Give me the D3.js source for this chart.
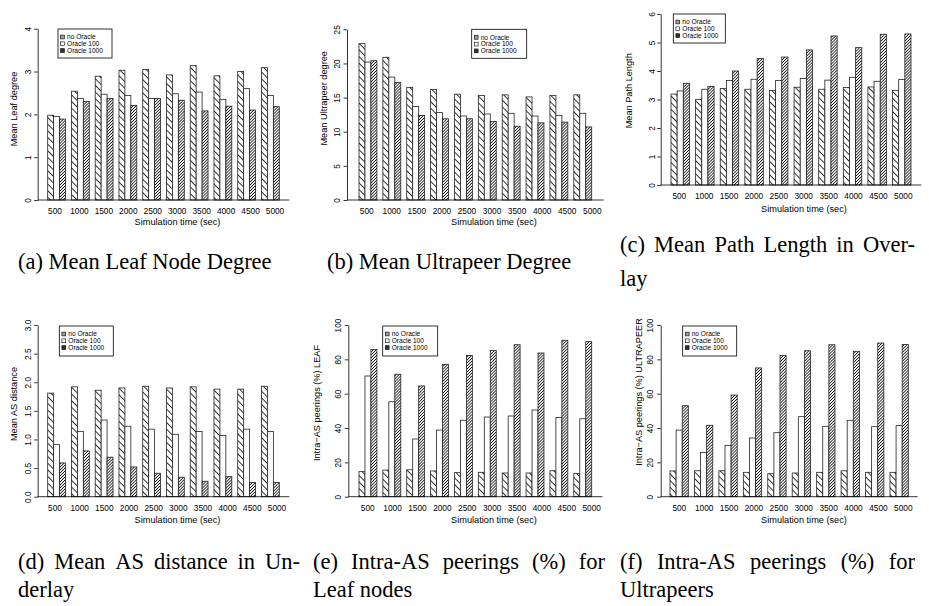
<!DOCTYPE html>
<html lang="en">
<head>
    <meta charset="UTF-8">
    <title>Oracle simulation results</title>
    <script src="https://d3js.org/d3.v7.min.js"></script>
    <style>
        body { margin: 0; background: #fff; }
        svg { display: block; }
        .tick text, .lbl { font-family: "Liberation Sans", Arial, sans-serif; fill: #000; }
        .cap { font-family: "Liberation Serif", "Times New Roman", serif; fill: #000; }
    </style>
</head>
<body>
    <div id="chart"></div>
    <script>

// --- data ---
const timeLabels = ["500", "1000", "1500", "2000", "2500", "3000", "3500", "4000", "4500", "5000"];
const seriesNames = ["no Oracle", "Oracle 100", "Oracle 1000"];

const leafNoOracle   = [1.98, 2.54, 2.89, 3.03, 3.05, 2.92, 3.14, 2.90, 3.00, 3.09];
const leafOracle100  = [1.95, 2.37, 2.47, 2.44, 2.37, 2.48, 2.52, 2.35, 2.60, 2.44];
const leafOracle1000 = [1.89, 2.30, 2.37, 2.21, 2.37, 2.33, 2.08, 2.19, 2.10, 2.18];

const upNoOracle   = [22.9, 20.9, 16.5, 16.2, 15.5, 15.3, 15.4, 15.1, 15.3, 15.4];
const upOracle100  = [20.2, 18.0, 13.7, 12.8, 12.3, 12.6, 12.7, 12.3, 12.4, 12.7];
const upOracle1000 = [20.4, 17.2, 12.4, 11.9, 11.9, 11.5, 10.8, 11.3, 11.4, 10.7];

const pathNoOracle   = [3.19, 3.00, 3.39, 3.36, 3.32, 3.43, 3.36, 3.42, 3.44, 3.32];
const pathOracle100  = [3.30, 3.36, 3.67, 3.71, 3.67, 3.74, 3.68, 3.78, 3.64, 3.70];
const pathOracle1000 = [3.57, 3.46, 4.00, 4.44, 4.49, 4.74, 5.23, 4.82, 5.29, 5.30];

const asNoOracle   = [1.81, 1.92, 1.86, 1.90, 1.93, 1.90, 1.92, 1.88, 1.88, 1.93];
const asOracle100  = [0.91, 1.14, 1.34, 1.23, 1.18, 1.09, 1.14, 1.07, 1.18, 1.14];
const asOracle1000 = [0.59, 0.80, 0.69, 0.52, 0.41, 0.34, 0.27, 0.35, 0.25, 0.25];

const leafIntraNoOracle   = [14.6, 15.5, 15.7, 15.0, 14.0, 14.2, 13.8, 13.8, 15.1, 13.6];
const leafIntraOracle100  = [70.3, 55.3, 33.6, 38.8, 44.5, 46.4, 47.0, 50.5, 46.2, 45.4];
const leafIntraOracle1000 = [85.8, 71.3, 64.5, 77.1, 82.3, 85.2, 88.5, 83.7, 91.1, 90.3];

const upIntraNoOracle   = [15.0, 15.1, 15.1, 14.2, 13.4, 13.8, 14.2, 15.1, 14.2, 14.2];
const upIntraOracle100  = [38.8, 25.8, 29.9, 34.2, 37.3, 46.6, 41.0, 44.5, 40.8, 41.4];
const upIntraOracle1000 = [53.0, 41.6, 59.2, 75.0, 82.3, 85.0, 88.5, 84.7, 89.5, 88.7];

const leafTicks = [0, 1, 2, 3, 4];
const upTicks = [0, 5, 10, 15, 20, 25];
const pathTicks = [0, 1, 2, 3, 4, 5, 6];
const asTicks = [0, 0.5, 1, 1.5, 2, 2.5, 3];
const pctTicks = [0, 20, 40, 60, 80, 100];

// --- panels: data + where each one sits on the page ---
const panels = [
    { series: [leafNoOracle, leafOracle100, leafOracle1000], ticks: leafTicks, fmt: d3.format("d"),
      yTitle: "Mean Leaf degree", caption: ["(a) Mean Leaf Node Degree"], capX: 18, capY: [269],
      axisX: 37.7, yBase: 200, yTop: 28.7, barL: 47.7, barR: 279.3, labL: 55, labR: 275, labY: 210.7,
      titleX: 177.5, titleY: 221.7, yLabX: 28.3, yTitleX: 13.3, yTitleY: 109, legend: [58, 29, 54, 29] },
    { series: [upNoOracle, upOracle100, upOracle1000], ticks: upTicks, fmt: d3.format("d"),
      yTitle: "Mean Ultrapeer degree", caption: ["(b) Mean Ultrapeer Degree"], capX: 327, capY: [269],
      axisX: 347, yBase: 200, yTop: 29.3, barL: 359, barR: 591.7, labL: 366.7, labR: 592.3, labY: 210.7,
      titleX: 494, titleY: 221.7, yLabX: 337.3, yTitleX: 323.3, yTitleY: 98.3, legend: [471.7, 29.3, 55, 29] },
    { series: [pathNoOracle, pathOracle100, pathOracle1000], ticks: pathTicks, fmt: d3.format("d"),
      yTitle: "Mean Path Length", caption: ["(c) Mean Path Length in Over-", "lay"], capX: 620, capY: [252, 286], justify: 295,
      axisX: 660.7, yBase: 185, yTop: 14, barL: 671, barR: 911, labL: 679.3, labR: 903.3, labY: 196,
      titleX: 804, titleY: 208.3, yLabX: 651.7, yTitleX: 628.3, yTitleY: 90.8, legend: [673.3, 14, 52, 29] },
    { series: [asNoOracle, asOracle100, asOracle1000], ticks: asTicks, fmt: d3.format(".1f"),
      yTitle: "Mean AS distance", caption: ["(d) Mean AS distance in Un-", "derlay"], capX: 18, capY: [569, 597], justify: 282,
      axisX: 37.7, yBase: 496.7, yTop: 325, barL: 47.7, barR: 279.3, labL: 55, labR: 277, labY: 507.7,
      titleX: 177.5, titleY: 520, yLabX: 28.3, yTitleX: 13.3, yTitleY: 404, legend: [59.3, 326, 54, 30] },
    { series: [leafIntraNoOracle, leafIntraOracle100, leafIntraOracle1000], ticks: pctTicks, fmt: d3.format("d"),
      yTitle: "Intra\u2212AS peerings (%) LEAF", caption: ["(e) Intra-AS peerings (%) for", "Leaf nodes"], capX: 313, capY: [569, 597], justify: 292,
      axisX: 348.3, yBase: 496.7, yTop: 325, barL: 359, barR: 591.7, labL: 367.7, labR: 591.7, labY: 507.7,
      titleX: 494, titleY: 520, yLabX: 338.3, yTitleX: 316.7, yTitleY: 403, legend: [382.7, 326, 55, 30] },
    { series: [upIntraNoOracle, upIntraOracle100, upIntraOracle1000], ticks: pctTicks, fmt: d3.format("d"),
      yTitle: "Intra\u2212AS peerings (%) ULTRAPEER", caption: ["(f) Intra-AS peerings (%) for", "Ultrapeers"], capX: 620, capY: [569, 597], justify: 295,
      axisX: 660.7, yBase: 496.7, yTop: 325, barL: 670, barR: 908.3, labL: 679.3, labR: 903.3, labY: 507.7,
      titleX: 804, titleY: 520, yLabX: 650, yTitleX: 638.3, yTitleY: 392, legend: [682.7, 326, 54, 30] }
];

const width = 929, height = 606;
const svg = d3.select("#chart").append("svg").attr("width", width).attr("height", height);

// hatch patterns like R's density/angle fills
const defs = svg.append("defs");
function hatch(id, gap, angle, sw) {
    const p = defs.append("pattern").attr("id", id)
        .attr("patternUnits", "userSpaceOnUse")
        .attr("width", gap).attr("height", gap)
        .attr("patternTransform", `rotate(${angle})`);
    p.append("rect").attr("width", gap).attr("height", gap).attr("fill", "#fff");
    p.append("line").attr("x1", gap / 2).attr("x2", gap / 2).attr("y1", 0).attr("y2", gap)
        .attr("stroke", "#000").attr("stroke-width", sw);
}
hatch("sparse", 4.7, -45, 0.8);
hatch("dense", 2.1, 45, 0.75);
hatch("sparseLeg", 1.8, -45, 0.7);
const fills = ["url(#sparse)", "#fff", "url(#dense)"];
const legFills = ["url(#sparseLeg)", "#fff", "#333"];

panels.forEach(p => {
    const g = svg.append("g");
    const y = d3.scaleLinear().domain([0, d3.max(p.ticks)]).range([p.yBase, p.yTop]);
    const x0 = d3.scaleBand().domain(timeLabels).range([p.barL, p.barR]).paddingInner(0.25).paddingOuter(0);
    const x1 = d3.scaleBand().domain(seriesNames).range([0, x0.bandwidth()]);
    const xl = d3.scalePoint().domain(timeLabels).range([p.labL, p.labR]);

    // bars
    p.series.forEach((vals, si) => {
        g.append("g").selectAll("rect")
            .data(vals)
            .enter().append("rect")
            .attr("x", (d, i) => x0(timeLabels[i]) + x1(seriesNames[si]))
            .attr("width", x1.bandwidth())
            .attr("y", d => y(d))
            .attr("height", d => y(0) - y(d))
            .attr("fill", fills[si])
            .attr("stroke", "#222")
            .attr("stroke-width", 0.8);
    });

    // y axis, labels parallel to the axis
    const ya = g.append("g").attr("transform", `translate(${p.axisX},0)`)
        .call(d3.axisLeft(y).tickValues(p.ticks).tickFormat(p.fmt).tickSize(3.5).tickSizeOuter(0));
    ya.select(".domain").attr("stroke", "#000").attr("stroke-width", 0.8);
    ya.selectAll(".tick line").attr("stroke", "#000").attr("stroke-width", 0.8);
    ya.selectAll(".tick text")
        .attr("x", 0).attr("dy", "0.35em")
        .attr("transform", `translate(${p.yLabX - p.axisX},0) rotate(-90)`)
        .attr("text-anchor", "middle")
        .style("font-size", "8.3px");

    // baseline
    g.append("line")
        .attr("x1", p.axisX).attr("x2", p.barR + (p.barL - p.axisX))
        .attr("y1", y(0)).attr("y2", y(0))
        .attr("stroke", "#000").attr("stroke-width", 0.8);

    // x labels
    g.append("g").selectAll("text")
        .data(timeLabels)
        .enter().append("text")
        .attr("class", "lbl")
        .attr("x", d => xl(d))
        .attr("y", p.labY)
        .attr("dy", "0.35em")
        .attr("text-anchor", "middle")
        .style("font-size", "8.3px")
        .text(d => d);

    g.append("text").attr("class", "lbl")
        .attr("x", p.titleX).attr("y", p.titleY).attr("dy", "0.35em")
        .attr("text-anchor", "middle").style("font-size", "9.2px")
        .text("Simulation time (sec)");

    g.append("text").attr("class", "lbl")
        .attr("transform", `translate(${p.yTitleX},${p.yTitleY}) rotate(-90)`)
        .attr("dy", "0.35em")
        .attr("text-anchor", "middle").style("font-size", "9.2px")
        .text(p.yTitle);

    // legend
    const [lx, ly, lw, lh] = p.legend;
    const lg = g.append("g").attr("transform", `translate(${lx},${ly})`);
    lg.append("rect").attr("width", lw).attr("height", lh)
        .attr("fill", "#fff").attr("stroke", "#000").attr("stroke-width", 0.8);
    seriesNames.forEach((name, si) => {
        const ry = 8 + si * 6.8;
        lg.append("rect").attr("x", 2.6).attr("y", ry - 1.9).attr("width", 3.8).attr("height", 3.8)
            .attr("fill", legFills[si]).attr("stroke", "#000").attr("stroke-width", 0.6);
        lg.append("text").attr("class", "lbl")
            .attr("x", 9).attr("y", ry).attr("dy", "0.35em")
            .style("font-size", "6.6px")
            .text(name);
    });

    // caption under the panel; first line of a two-line caption is justified by word gaps
    p.caption.forEach((line, li) => {
        const t = svg.append("text").attr("class", "cap")
            .attr("y", p.capY[li])
            .style("font-size", "22.5px");
        if (p.justify && li === 0) {
            const words = line.split(" ");
            const spans = words.map(w => t.append("tspan").text(w));
            const widths = spans.map(s => s.node().getComputedTextLength());
            const gap = (p.justify - d3.sum(widths)) / (words.length - 1);
            let cx = p.capX;
            spans.forEach((s, i) => { s.attr("x", cx); cx += widths[i] + gap; });
        } else {
            t.attr("x", p.capX).text(line);
        }
    });
});

    </script>
</body>
</html>
